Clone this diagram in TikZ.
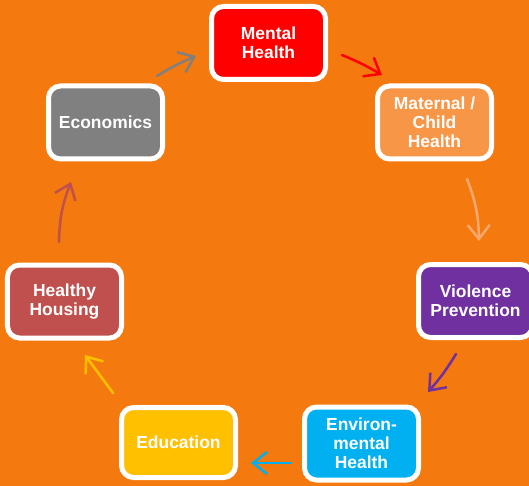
\documentclass[tikz,border=0pt]{standalone}
\usepackage{fontspec}
\setmainfont{Liberation Sans}
\usetikzlibrary{arrows.meta}
\definecolor{bg}{HTML}{F4790E}
\definecolor{cmental}{HTML}{FF0000}
\definecolor{cmaternal}{HTML}{F79646}
\definecolor{cviolence}{HTML}{7030A0}
\definecolor{cenv}{HTML}{00B0F0}
\definecolor{cedu}{HTML}{FFC000}
\definecolor{chouse}{HTML}{C0504D}
\definecolor{cecon}{HTML}{808080}
\definecolor{amaternal}{HTML}{F9A96E}
\tikzset{
  box/.style={draw=white, line width=5bp, rounded corners=12bp, minimum width=114bp, minimum height=73bp,
    align=center, text=white, font=\bfseries\fontsize{17.5}{19}\selectfont, inner sep=0pt},
  conn/.style={line width=2.5bp, -{Straight Barb[length=14bp,width=22bp,line width=2.5bp]}, line cap=round}
}
\begin{document}
\begin{tikzpicture}[x=1bp,y=-1bp]
\fill[bg] (0,0) rectangle (529,486);
\useasboundingbox (0,0) rectangle (529,486);
\begin{scope}
\clip (0,0) rectangle (529,486);
\node[box, fill=cmental] (mh) at (268.5,43) {Mental\\Health};
\node[box, fill=cmaternal] (mc) at (434.5,122.5) {Maternal /\\Child\\Health};
\node[box, fill=cviolence] (vp) at (475.5,301) {Violence\\Prevention};
\node[box, fill=cenv] (eh) at (361.5,443.5) {Environ-\\mental\\Health};
\node[box, fill=cedu, minimum height=70bp] (ed) at (178.5,442.5) {Education};
\node[box, fill=chouse] (hh) at (64.5,301.5) {Healthy\\Housing};
\node[box, fill=cecon] (ec) at (105.5,122.5) {Economics};
\end{scope}
\coordinate (a1s) at (342,55); \coordinate (a1e) at (382,75);
\coordinate (a2s) at (467,179); \coordinate (a2e) at (479,241);
\coordinate (a3s) at (456,354); \coordinate (a3e) at (428,392);
\coordinate (a4s) at (291,463); \coordinate (a4e) at (251,463);
\coordinate (a5s) at (113,393); \coordinate (a5e) at (85,355);
\coordinate (a6s) at (59,242); \coordinate (a6e) at (71,182);
\coordinate (a7s) at (157,76); \coordinate (a7e) at (196,56);
\draw[conn, cmental] (a1s) to[bend left=4] (a1e);
\draw[conn, amaternal] (a2s) to[bend left=10] (a2e);
\draw[conn, cviolence] (a3s) to[bend left=5] (a3e);
\draw[conn, cenv] (a4s) -- (a4e);
\draw[conn, cedu] (a5s) -- (a5e);
\draw[conn, chouse] (a6s) to[bend left=10] (a6e);
\draw[conn, cecon] (a7s) to[bend left=4] (a7e);
\end{tikzpicture}
\end{document}
